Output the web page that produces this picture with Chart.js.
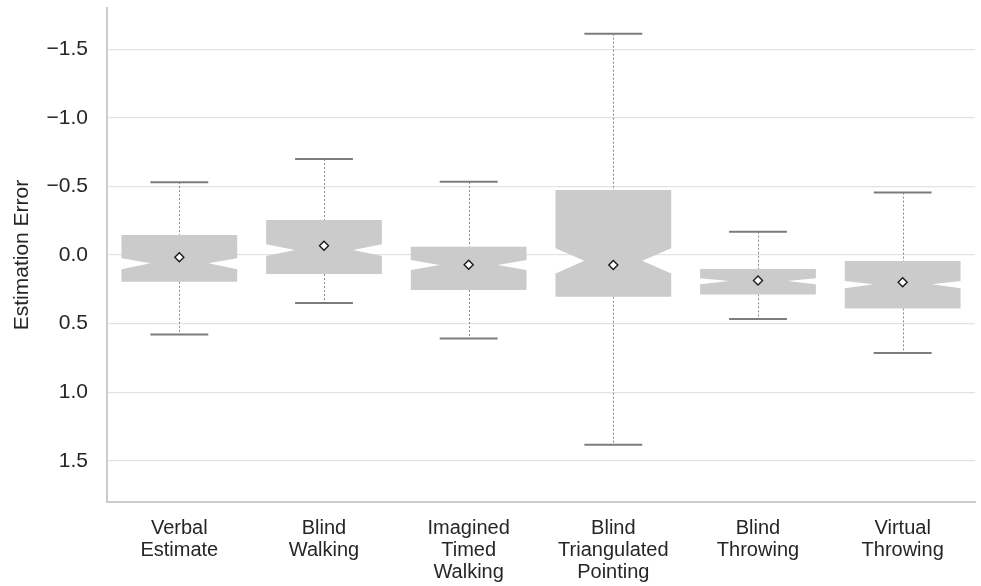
<!DOCTYPE html>
<html><head><meta charset="utf-8">
<script src="https://cdn.jsdelivr.net/npm/chart.js@4.4.1/dist/chart.umd.min.js"></script>
<style>html,body{margin:0;padding:0;background:#fff;}#wrap{width:981px;height:586px;}</style>
</head><body><div id="wrap"><canvas id="c" width="981" height="586"></canvas></div>
<script>
// ---- data (y axis is reversed) ----
const categories = [['Verbal','Estimate'], ['Blind','Walking'], ['Imagined','Timed','Walking'], ['Blind','Triangulated','Pointing'], ['Blind','Throwing'], ['Virtual','Throwing']];
const whiskerLow  = [-0.531, -0.699, -0.533, -1.613, -0.170, -0.455];
const q1          = [-0.146, -0.255, -0.061, -0.474,  0.102,  0.044];
const notchLow    = [ 0.024, -0.078,  0.036, -0.049,  0.170,  0.190];
const medians     = [ 0.061, -0.036,  0.073,  0.041,  0.190,  0.214];
const notchHigh   = [ 0.104,  0.007,  0.109,  0.134,  0.214,  0.243];
const q3          = [ 0.195,  0.139,  0.255,  0.304,  0.287,  0.389];
const whiskerHigh = [ 0.579,  0.350,  0.608,  1.382,  0.467,  0.715];
const means       = [ 0.017, -0.068,  0.071,  0.073,  0.185,  0.199];
const yTicks      = [-1.5, -1.0, -0.5, 0.0, 0.5, 1.0, 1.5];
const yLabel = 'Estimation Error';

const notchedBoxes = {
  id: 'notchedBoxes',
  beforeDatasetsDraw(chart) {
    const xs = chart.scales.x, ys = chart.scales.y, ctx = chart.ctx;
    const band = xs.width / categories.length;
    const Y = v => ys.getPixelForValue(v);
    ctx.save();
    for (let i = 0; i < categories.length; i++) {
      const cx = xs.getPixelForValue(i);
      const wx = Math.round(cx) + 0.5;
      // whiskers (dashed)
      ctx.setLineDash([2, 2]);
      ctx.strokeStyle = '#8a8a8a';
      ctx.lineWidth = 1;
      ctx.beginPath();
      ctx.moveTo(wx, Y(whiskerLow[i]));
      ctx.lineTo(wx, Y(q1[i]));
      ctx.moveTo(wx, Y(q3[i]));
      ctx.lineTo(wx, Y(whiskerHigh[i]));
      ctx.stroke();
      ctx.setLineDash([]);
      // caps
      ctx.strokeStyle = '#7c7c7c';
      ctx.lineWidth = 2;
      ctx.beginPath();
      const cw = band * 0.2;
      ctx.moveTo(cx - cw, Y(whiskerLow[i])); ctx.lineTo(cx + cw, Y(whiskerLow[i]));
      ctx.moveTo(cx - cw, Y(whiskerHigh[i])); ctx.lineTo(cx + cw, Y(whiskerHigh[i]));
      ctx.stroke();
      // notched box
      const l = cx - band * 0.4, r = cx + band * 0.4, ins = band * 0.2;
      ctx.fillStyle = '#cbcbcb';
      ctx.beginPath();
      ctx.moveTo(l, Y(q1[i]));
      ctx.lineTo(r, Y(q1[i]));
      ctx.lineTo(r, Y(notchLow[i]));
      ctx.lineTo(r - ins, Y(medians[i]));
      ctx.lineTo(r, Y(notchHigh[i]));
      ctx.lineTo(r, Y(q3[i]));
      ctx.lineTo(l, Y(q3[i]));
      ctx.lineTo(l, Y(notchHigh[i]));
      ctx.lineTo(l + ins, Y(medians[i]));
      ctx.lineTo(l, Y(notchLow[i]));
      ctx.closePath();
      ctx.fill();
    }
    ctx.restore();
  }
};

Chart.defaults.font.family = '"Liberation Sans", Arial, sans-serif';
Chart.defaults.color = '#262626';

new Chart(document.getElementById('c'), {
  type: 'line',
  data: {
    labels: categories,
    datasets: [{
      label: 'Mean',
      data: means,
      showLine: false,
      pointStyle: 'rectRot',
      pointRadius: 4.5,
      pointBackgroundColor: '#ffffff',
      pointBorderColor: '#1a1a1a',
      pointBorderWidth: 1.4
    }]
  },
  options: {
    responsive: false,
    devicePixelRatio: 1,
    animation: false,
    layout: { padding: { top: 8, right: 6, left: 0, bottom: 0 } },
    plugins: { legend: { display: false }, tooltip: { enabled: false } },
    scales: {
      x: {
        type: 'category',
        offset: true,
        grid: { display: false, drawTicks: false },
        border: { display: true, color: '#cccccc', width: 2 },
        ticks: { font: { size: 20, lineHeight: 1.1 }, padding: 15, maxRotation: 0, autoSkip: false, color: '#262626' },
        afterFit(s) { s.height = 84; s.paddingLeft = 0; s.paddingRight = 0; }
      },
      y: {
        type: 'linear',
        reverse: true,
        min: -1.8, max: 1.8,
        afterBuildTicks(s) { s.ticks = yTicks.map(v => ({ value: v })); },
        grid: { color: '#e3e3e3', lineWidth: 1.2, drawTicks: false },
        border: { display: true, color: '#cccccc', width: 2 },
        ticks: {
          font: { size: 21 }, padding: 19, color: '#262626',
          callback: v => (v < 0 ? '\u2212' : '') + Math.abs(v).toFixed(1)
        },
        title: { display: true, text: yLabel, font: { size: 21 }, color: '#262626', padding: { top: 10, bottom: 0 } },
        afterFit(s) { s.width = 107; s.paddingTop = 0; s.paddingBottom = 0; }
      }
    }
  },
  plugins: [notchedBoxes]
});
</script></body></html>
